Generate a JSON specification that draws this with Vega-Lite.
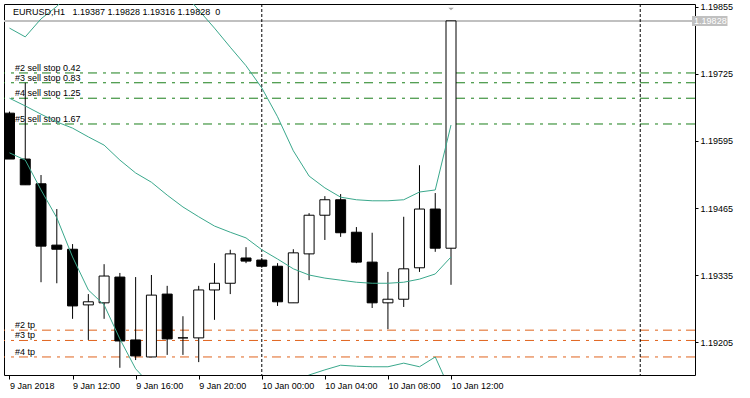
{
  "$schema": "https://vega.github.io/schema/vega-lite/v6.json",
  "width": 691,
  "height": 371,
  "autosize": "none",
  "padding": {"left": 4, "top": 4, "right": 55, "bottom": 23},
  "background": "white",
  "view": {"stroke": "black", "strokeWidth": 1, "fill": "white"},
  "config": {"font": "Liberation Sans"},
  "datasets": {
    "candles": [
      {"time": "2018-01-09T08:00:00Z", "open": 1.19649, "high": 1.19652, "low": 1.19560, "close": 1.19560, "upper": 1.19814, "middle": 1.19678, "lower": 1.19572},
      {"time": "2018-01-09T09:00:00Z", "open": 1.19560, "high": 1.19708, "low": 1.19510, "close": 1.19510, "upper": 1.19797, "middle": 1.19663, "lower": 1.19558},
      {"time": "2018-01-09T10:00:00Z", "open": 1.19512, "high": 1.19529, "low": 1.19321, "close": 1.19391, "upper": 1.19832, "middle": 1.19647, "lower": 1.19500},
      {"time": "2018-01-09T11:00:00Z", "open": 1.19393, "high": 1.19463, "low": 1.19319, "close": 1.19385, "upper": 1.19856, "middle": 1.19632, "lower": 1.19446},
      {"time": "2018-01-09T12:00:00Z", "open": 1.19385, "high": 1.19395, "low": 1.19250, "close": 1.19275, "upper": 1.19890, "middle": 1.19620, "lower": 1.19370},
      {"time": "2018-01-09T13:00:00Z", "open": 1.19277, "high": 1.19298, "low": 1.19209, "close": 1.19283, "upper": 1.19920, "middle": 1.19603, "lower": 1.19306},
      {"time": "2018-01-09T14:00:00Z", "open": 1.19281, "high": 1.19356, "low": 1.19250, "close": 1.19333, "upper": 1.19940, "middle": 1.19587, "lower": 1.19277},
      {"time": "2018-01-09T15:00:00Z", "open": 1.19331, "high": 1.19339, "low": 1.19155, "close": 1.19207, "upper": 1.19955, "middle": 1.19558, "lower": 1.19211},
      {"time": "2018-01-09T16:00:00Z", "open": 1.19209, "high": 1.19331, "low": 1.19170, "close": 1.19178, "upper": 1.19960, "middle": 1.19533, "lower": 1.19153},
      {"time": "2018-01-09T17:00:00Z", "open": 1.19176, "high": 1.19335, "low": 1.19176, "close": 1.19296, "upper": 1.19950, "middle": 1.19515, "lower": 1.19120},
      {"time": "2018-01-09T18:00:00Z", "open": 1.19298, "high": 1.19314, "low": 1.19180, "close": 1.19211, "upper": 1.19925, "middle": 1.19490, "lower": 1.19100},
      {"time": "2018-01-09T19:00:00Z", "open": 1.19213, "high": 1.19255, "low": 1.19180, "close": 1.19213, "upper": 1.19884, "middle": 1.19467, "lower": 1.19090},
      {"time": "2018-01-09T20:00:00Z", "open": 1.19213, "high": 1.19314, "low": 1.19166, "close": 1.19306, "upper": 1.19849, "middle": 1.19448, "lower": 1.19085},
      {"time": "2018-01-09T21:00:00Z", "open": 1.19306, "high": 1.19358, "low": 1.19248, "close": 1.19319, "upper": 1.19814, "middle": 1.19430, "lower": 1.19085},
      {"time": "2018-01-09T22:00:00Z", "open": 1.19319, "high": 1.19384, "low": 1.19298, "close": 1.19376, "upper": 1.19777, "middle": 1.19418, "lower": 1.19090},
      {"time": "2018-01-09T23:00:00Z", "open": 1.19368, "high": 1.19389, "low": 1.19358, "close": 1.19362, "upper": 1.19741, "middle": 1.19407, "lower": 1.19095},
      {"time": "2018-01-10T00:00:00Z", "open": 1.19364, "high": 1.19368, "low": 1.19349, "close": 1.19352, "upper": 1.19698, "middle": 1.19384, "lower": 1.19100},
      {"time": "2018-01-10T01:00:00Z", "open": 1.19352, "high": 1.19358, "low": 1.19275, "close": 1.19283, "upper": 1.19642, "middle": 1.19366, "lower": 1.19110},
      {"time": "2018-01-10T02:00:00Z", "open": 1.19281, "high": 1.19385, "low": 1.19281, "close": 1.19378, "upper": 1.19576, "middle": 1.19347, "lower": 1.19125},
      {"time": "2018-01-10T03:00:00Z", "open": 1.19376, "high": 1.19455, "low": 1.19325, "close": 1.19451, "upper": 1.19527, "middle": 1.19335, "lower": 1.19141},
      {"time": "2018-01-10T04:00:00Z", "open": 1.19451, "high": 1.19488, "low": 1.19403, "close": 1.19481, "upper": 1.19504, "middle": 1.19329, "lower": 1.19151},
      {"time": "2018-01-10T05:00:00Z", "open": 1.19481, "high": 1.19492, "low": 1.19409, "close": 1.19417, "upper": 1.19486, "middle": 1.19325, "lower": 1.19160},
      {"time": "2018-01-10T06:00:00Z", "open": 1.19418, "high": 1.19428, "low": 1.19358, "close": 1.19360, "upper": 1.19481, "middle": 1.19321, "lower": 1.19158},
      {"time": "2018-01-10T07:00:00Z", "open": 1.19360, "high": 1.19417, "low": 1.19271, "close": 1.19281, "upper": 1.19479, "middle": 1.19319, "lower": 1.19157},
      {"time": "2018-01-10T08:00:00Z", "open": 1.19281, "high": 1.19341, "low": 1.19230, "close": 1.19288, "upper": 1.19479, "middle": 1.19319, "lower": 1.19157},
      {"time": "2018-01-10T09:00:00Z", "open": 1.19288, "high": 1.19448, "low": 1.19273, "close": 1.19347, "upper": 1.19481, "middle": 1.19321, "lower": 1.19164},
      {"time": "2018-01-10T10:00:00Z", "open": 1.19349, "high": 1.19548, "low": 1.19341, "close": 1.19463, "upper": 1.19496, "middle": 1.19327, "lower": 1.19157},
      {"time": "2018-01-10T11:00:00Z", "open": 1.19463, "high": 1.19494, "low": 1.19380, "close": 1.19387, "upper": 1.19500, "middle": 1.19337, "lower": 1.19176},
      {"time": "2018-01-10T12:00:00Z", "open": 1.19387, "high": 1.19828, "low": 1.19316, "close": 1.19828, "upper": 1.19626, "middle": 1.19370, "lower": 1.19108}
    ],
    "levels": [
      {"label": "#2 sell stop 0.42", "price": 1.19727, "kind": "sell stop"},
      {"label": "#3 sell stop 0.83", "price": 1.19708, "kind": "sell stop"},
      {"label": "#4 sell stop 1.25", "price": 1.19678, "kind": "sell stop"},
      {"label": "#5 sell stop 1.67", "price": 1.19628, "kind": "sell stop"},
      {"label": "#2 tp", "price": 1.19228, "kind": "tp"},
      {"label": "#3 tp", "price": 1.19208, "kind": "tp"},
      {"label": "#4 tp", "price": 1.19176, "kind": "tp"}
    ],
    "separators": [
      {"time": "2018-01-10T00:00:00Z"},
      {"time": "2018-01-11T00:00:00Z"}
    ],
    "info": [
      {"text": "EURUSD,H1\u00a0\u00a0\u00a01.19387 1.19828 1.19316 1.19828\u00a0\u00a00", "bid": 1.19828, "bidText": "1.19828", "lastBar": "2018-01-10T12:00:00Z"}
    ]
  },
  "layer": [
    {
      "data": {"name": "levels"},
      "mark": {"type": "rule", "strokeDash": [9, 5, 3, 6], "strokeWidth": 1},
      "encoding": {
        "y": {
          "field": "price", "type": "quantitative", "title": null,
          "scale": {"domain": [1.19141, 1.198608], "nice": false, "zero": false},
          "axis": {
            "orient": "right",
            "values": [1.19855, 1.1979, 1.19725, 1.1966, 1.19595, 1.1953, 1.19465, 1.194, 1.19335, 1.1927, 1.19205],
            "format": ".5f", "grid": false, "domain": false,
            "tickSize": 3, "tickColor": "black", "labelPadding": 2,
            "labelFont": "Liberation Sans", "labelFontSize": 9, "labelColor": "black", "title": null
          }
        },
        "color": {
          "field": "kind", "type": "nominal",
          "scale": {"domain": ["sell stop", "tp"], "range": ["#1b7f1b", "#e0641e"]},
          "legend": null
        }
      }
    },
    {
      "data": {"name": "levels"},
      "mark": {"type": "text", "align": "left", "baseline": "alphabetic", "dx": 6, "dy": -2, "fontSize": 9, "font": "Liberation Sans", "color": "black"},
      "encoding": {
        "x": {"datum": 1515484687500, "type": "temporal", "title": null},
        "y": {"field": "price", "type": "quantitative", "title": null},
        "text": {"field": "label"}
      }
    },
    {
      "data": {"name": "info"},
      "mark": {"type": "rule", "color": "#c0c0c0", "strokeWidth": 2},
      "encoding": {
        "y": {"field": "bid", "type": "quantitative", "title": null}
      }
    },
    {
      "data": {"name": "separators"},
      "mark": {"type": "rule", "color": "black", "strokeWidth": 1, "strokeDash": [3, 2]},
      "encoding": {
        "x": {"field": "time", "type": "temporal", "title": null}
      }
    },
    {
      "data": {"name": "candles"},
      "mark": {"type": "rule", "color": "black", "strokeWidth": 1, "clip": true},
      "encoding": {
        "x": {
          "field": "time", "type": "temporal", "title": null,
          "scale": {"type": "utc", "domain": [1515484687500, 1515640162500]},
          "axis": {
            "values": [1515484800000, 1515499200000, 1515513600000, 1515528000000, 1515542400000, 1515556800000, 1515571200000, 1515585600000],
            "labelExpr": "utcdate(datum.value) == 9 && utchours(datum.value) == 8 ? '9 Jan 2018' : utcFormat(datum.value, '%-d %b %H:%M')",
            "labelAlign": "left", "labelBaseline": "top", "labelPadding": 2,
            "tickSize": 4, "tickColor": "black", "domain": false, "grid": false,
            "labelFont": "Liberation Sans", "labelFontSize": 9, "labelColor": "black",
            "labelFlush": false, "labelOverlap": false, "title": null
          }
        },
        "y": {"field": "low", "type": "quantitative", "title": null},
        "y2": {"field": "high"}
      }
    },
    {
      "data": {"name": "candles"},
      "mark": {"type": "bar", "size": 10, "stroke": "black", "strokeWidth": 1, "clip": true},
      "encoding": {
        "x": {"field": "time", "type": "temporal", "title": null},
        "y": {"field": "open", "type": "quantitative", "title": null},
        "y2": {"field": "close"},
        "fill": {"condition": {"test": "datum.close >= datum.open", "value": "white"}, "value": "black"}
      }
    },
    {
      "data": {"name": "candles"},
      "mark": {"type": "line", "color": "#3aa88c", "strokeWidth": 1, "clip": true},
      "encoding": {
        "x": {"field": "time", "type": "temporal", "title": null},
        "y": {"field": "upper", "type": "quantitative", "title": null}
      }
    },
    {
      "data": {"name": "candles"},
      "mark": {"type": "line", "color": "#3aa88c", "strokeWidth": 1, "clip": true},
      "encoding": {
        "x": {"field": "time", "type": "temporal", "title": null},
        "y": {"field": "middle", "type": "quantitative", "title": null}
      }
    },
    {
      "data": {"name": "candles"},
      "mark": {"type": "line", "color": "#3aa88c", "strokeWidth": 1, "clip": true},
      "encoding": {
        "x": {"field": "time", "type": "temporal", "title": null},
        "y": {"field": "lower", "type": "quantitative", "title": null}
      }
    },
    {
      "data": {"name": "info"},
      "mark": {"type": "text", "align": "left", "baseline": "alphabetic", "dx": 4, "dy": 11, "fontSize": 9, "font": "Liberation Sans", "color": "black"},
      "encoding": {
        "x": {"datum": 1515484687500, "type": "temporal", "title": null},
        "y": {"datum": 1.198608, "type": "quantitative", "title": null},
        "text": {"field": "text"}
      }
    },
    {
      "data": {"name": "info"},
      "mark": {"type": "point", "shape": "M-1,-0.45L1,-0.45L0,0.45Z", "size": 30, "filled": true, "color": "#a8a8a8", "opacity": 1},
      "encoding": {
        "x": {"field": "lastBar", "type": "temporal", "title": null},
        "y": {"datum": 1.19851, "type": "quantitative", "title": null}
      }
    },
    {
      "data": {"name": "info"},
      "mark": {"type": "rect", "color": "#c0c0c0", "clip": false},
      "encoding": {
        "x": {"datum": 1515640620000, "type": "temporal", "title": null},
        "x2": {"datum": 1515648720000},
        "y": {"datum": 1.198375, "type": "quantitative", "title": null},
        "y2": {"datum": 1.198181}
      }
    },
    {
      "data": {"name": "info"},
      "mark": {"type": "text", "align": "left", "baseline": "middle", "color": "white", "fontSize": 9, "font": "Liberation Sans", "clip": false},
      "encoding": {
        "x": {"datum": 1515641100000, "type": "temporal", "title": null},
        "y": {"field": "bid", "type": "quantitative", "title": null},
        "text": {"field": "bidText"}
      }
    }
  ]
}
